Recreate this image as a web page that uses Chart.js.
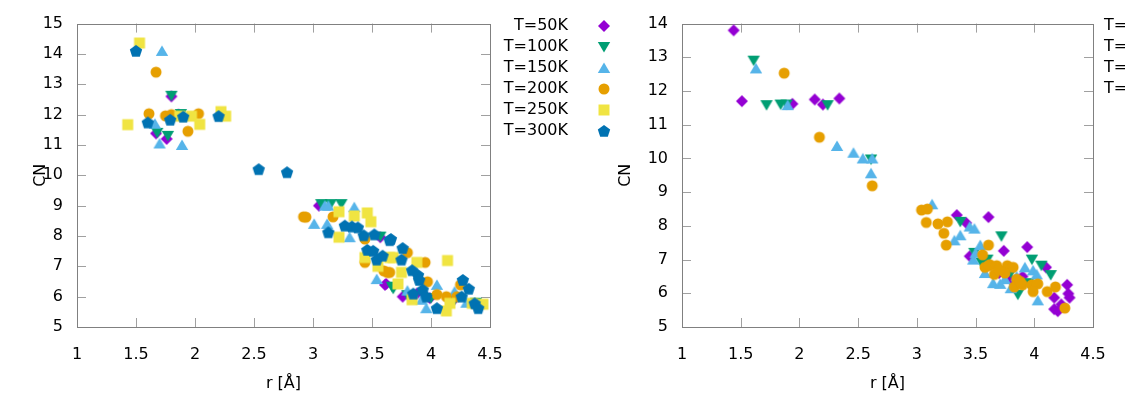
<!DOCTYPE html>
<html>
<head>
<meta charset="utf-8">
<script src="https://cdn.jsdelivr.net/npm/chart.js@4.4.1/dist/chart.umd.min.js"></script>
<style>
  html, body { margin: 0; padding: 0; background: #fff; }
  body { width: 1125px; height: 398px; overflow: hidden; position: relative; }
  #left  { position: absolute; left: 0;     top: 0; width: 640px; height: 398px; }
  #right { position: absolute; left: 600px; top: 0; width: 600px; height: 398px; }
</style>
</head>
<body>
<div id="left"><canvas id="leftChart"></canvas></div>
<div id="right"><canvas id="rightChart"></canvas></div>
<script>
// series labels, colours and marker shapes (gnuplot default set)
const labels = ['T=50K', 'T=100K', 'T=150K', 'T=200K', 'T=250K', 'T=300K'];
const colors = ['#9400d3', '#009e73', '#56b4e9', '#e69f00', '#f0e442', '#0072b2'];
const shapes = ['diamond', 'down', 'up', 'circle', 'square', 'pentagon'];

const x_ticks = [1, 1.5, 2, 2.5, 3, 3.5, 4, 4.5];
const y_ticks_left  = [5, 6, 7, 8, 9, 10, 11, 12, 13, 14, 15];
const y_ticks_right = [5, 6, 7, 8, 9, 10, 11, 12, 13, 14];

// left panel, [r, CN]
const left_50 = [[1.80,12.6],[1.67,11.38],[1.76,11.2],[1.86,12.0],[3.05,9.0],[3.57,7.96],[3.62,6.42],[3.61,6.39],
  [3.76,6.0],[3.88,6.1],[3.99,5.95],[4.18,5.85],[4.40,5.70]];
const left_100 = [[1.80,12.62],[1.68,11.4],[1.77,11.3],[1.88,12.02],[3.07,9.05],[3.15,9.05],[3.24,9.05],[3.57,7.98],
  [3.67,6.33],[3.68,6.26],[3.80,6.05],[4.00,5.95],[4.20,5.9],[4.38,5.8]];
const left_150 = [[1.72,14.1],[1.66,11.7],[1.70,11.05],[1.89,11.0],[3.01,8.4],[3.12,8.4],[3.10,9.0],[3.13,9.0],
  [3.31,7.96],[3.35,8.95],[3.54,6.58],[4.05,6.39],[3.96,5.62],[4.2,6.17],[3.80,6.2],[3.92,5.9],[4.30,5.8]];
const left_200 = [[1.67,13.4],[1.61,12.03],[1.75,11.96],[1.80,12.0],[2.03,12.03],[1.94,11.45],[2.92,8.63],[2.94,8.62],
  [3.17,8.63],[3.44,7.9],[3.44,7.13],[3.65,6.8],[3.63,6.8],[3.80,7.45],[3.95,7.13],[3.97,6.49],[4.05,6.07],
  [4.13,6.0],[4.22,6.0],[4.25,6.39],[3.60,6.85]];
const left_250 = [[1.53,14.36],[1.43,11.67],[1.87,11.95],[1.97,11.95],[2.04,11.68],[2.22,12.1],[2.26,11.95],[3.22,8.8],
  [3.35,8.66],[3.46,8.76],[3.49,8.47],[3.22,7.96],[3.44,7.29],[3.65,7.29],[3.68,7.29],[3.88,7.13],[4.14,7.19],
  [3.75,6.8],[3.72,6.42],[3.84,5.9],[4.13,5.53],[4.16,5.78],[4.35,5.78],[4.44,5.75],[3.55,7.0]];
const left_300 = [[1.50,14.1],[1.60,11.74],[1.79,11.83],[1.90,11.93],[2.20,11.95],[2.54,10.2],[2.78,10.1],[3.13,8.12],
  [3.27,8.34],[3.33,8.31],[3.38,8.28],[3.43,8.02],[3.52,8.05],[3.65,7.86],[3.46,7.54],[3.51,7.51],[3.54,7.22],
  [3.59,7.35],[3.66,7.9],[3.76,7.6],[3.75,7.22],[3.84,6.87],[3.89,6.71],[3.90,6.55],[3.85,6.1],[3.93,6.23],
  [3.96,6.0],[4.05,5.62],[4.27,6.55],[4.32,6.26],[4.26,6.0],[4.37,5.78],[4.40,5.62]];

// right panel, [r, CN]
const right_50 = [[1.44,13.8],[1.51,11.7],[1.94,11.62],[2.13,11.75],[2.20,11.6],[2.34,11.78],[3.34,8.32],[3.42,8.09],
  [3.61,8.26],[3.74,7.26],[3.94,7.37],[4.10,6.77],[4.28,6.25],[4.29,5.99],[4.30,5.87],[4.17,5.87],[4.23,5.67],
  [4.17,5.53],[4.2,5.47],[3.70,6.6],[3.8,6.4],[3.9,6.5],[3.45,7.1]];
const right_100 = [[1.61,12.9],[1.72,11.58],[1.84,11.6],[1.89,11.6],[2.24,11.58],[2.61,9.97],[3.37,8.12],[3.49,7.2],
  [3.55,6.9],[3.72,7.69],[3.98,7.0],[4.06,6.82],[4.14,6.54],[3.86,5.96],[3.6,7.0],[3.8,6.6],[3.95,6.3]];
const right_150 = [[1.63,12.67],[1.90,11.58],[2.32,10.37],[2.46,10.17],[2.54,10.0],[2.62,10.0],[2.61,9.56],[3.13,8.64],
  [3.37,7.72],[3.32,7.57],[3.45,7.98],[3.49,7.92],[3.54,7.43],[3.48,7.0],[3.50,7.2],[3.92,6.77],[3.99,6.68],
  [4.02,6.56],[3.71,6.28],[3.75,6.42],[4.03,5.79],[3.58,6.6],[3.85,6.5],[3.65,6.3],[3.8,6.15]];
const right_200 = [[1.87,12.53],[2.17,10.63],[2.62,9.19],[3.04,8.47],[3.09,8.5],[3.08,8.1],[3.18,8.06],[3.26,8.12],
  [3.23,7.78],[3.25,7.43],[3.61,7.43],[3.56,7.14],[3.58,6.77],[3.62,6.85],[3.62,6.82],[3.68,6.82],[3.77,6.82],
  [3.82,6.77],[3.66,6.56],[3.85,6.42],[3.83,6.19],[3.90,6.25],[3.98,6.25],[4.03,6.28],[3.99,6.05],[4.11,6.05],
  [4.18,6.19],[4.26,5.56],[3.75,6.6],[3.70,6.7],[3.88,6.35]];

const FONT = '"DejaVu Sans", Verdana, sans-serif';
const FONT_SIZE = 16;

function makeMarker(shape, color) {
    const c = document.createElement('canvas');
    c.width = 14; c.height = 14;
    const g = c.getContext('2d');
    g.fillStyle = color;
    g.beginPath();
    if (shape === 'circle') {
        g.arc(7, 7, 5.5, 0, Math.PI * 2);
    } else if (shape === 'square') {
        g.rect(1.5, 1.5, 11, 11);
    } else if (shape === 'diamond') {
        g.moveTo(7, 1); g.lineTo(13, 7); g.lineTo(7, 13); g.lineTo(1, 7);
    } else if (shape === 'up') {
        g.moveTo(7, 1.5); g.lineTo(13.2, 12); g.lineTo(0.8, 12);
    } else if (shape === 'down') {
        g.moveTo(0.8, 2); g.lineTo(13.2, 2); g.lineTo(7, 12.5);
    } else {
        for (let k = 0; k < 5; k++) {
            const a = -Math.PI / 2 + k * 2 * Math.PI / 5;
            g.lineTo(7 + 6.5 * Math.cos(a), 7.5 + 6.5 * Math.sin(a));
        }
    }
    g.closePath();
    g.fill();
    return c;
}

// gnuplot-like border with inward ticks on all four sides
const frame = {
    id: 'frame',
    beforeDatasetsDraw(chart) {
        const ctx = chart.ctx;
        const a = chart.chartArea;
        const xs = chart.scales.x, ys = chart.scales.y;
        ctx.save();
        ctx.lineWidth = 1;
        ctx.strokeStyle = '#a0a0a0';
        ctx.beginPath();
        xs.ticks.forEach(t => {
            const px = Math.round(xs.getPixelForValue(t.value)) + 0.5;
            if (px < a.left + 2 || px > a.right - 2) return;
            ctx.moveTo(px, a.bottom); ctx.lineTo(px, a.bottom - 9);
            ctx.moveTo(px, a.top);    ctx.lineTo(px, a.top + 9);
        });
        ys.ticks.forEach(t => {
            const py = Math.round(ys.getPixelForValue(t.value)) + 0.5;
            if (py < a.top + 2 || py > a.bottom - 2) return;
            ctx.moveTo(a.left, py);  ctx.lineTo(a.left + 9, py);
            ctx.moveTo(a.right, py); ctx.lineTo(a.right - 9, py);
        });
        ctx.stroke();
        ctx.strokeStyle = '#808080';
        ctx.strokeRect(Math.round(a.left) + 0.5, Math.round(a.top) + 0.5,
                       Math.round(a.right - a.left), Math.round(a.bottom - a.top));
        ctx.restore();
    }
};

const key = {
    id: 'key',
    afterDraw(chart, args, opts) {
        const ctx = chart.ctx;
        const a = chart.chartArea;
        ctx.save();
        ctx.font = FONT_SIZE + 'px ' + FONT;
        ctx.fillStyle = '#000';
        ctx.textBaseline = 'middle';
        ctx.textAlign = opts.align;
        chart.data.datasets.forEach((ds, i) => {
            const y = opts.top + i * opts.step;
            ctx.fillText(ds.label, a.right + opts.textDx, y);
            ctx.drawImage(ds.pointStyle, a.right + opts.markerDx - 7, y - 7);
        });
        ctx.restore();
    }
};

function build_panel(canvas_id, series, y_ticks, y_width, y_title_pad, right_pad, key_opts) {
    const datasets = series.map((pts, i) => ({
        label: labels[i],
        data: pts.map(p => ({ x: p[0], y: p[1] })),
        pointStyle: makeMarker(shapes[i], colors[i]),
        backgroundColor: colors[i],
        borderColor: colors[i],
        clip: false,
        order: 10 - i
    }));

    return new Chart(document.getElementById(canvas_id), {
        type: 'scatter',
        data: { datasets: datasets },
        options: {
            responsive: true,
            maintainAspectRatio: false,
            animation: false,
            events: [],
            layout: { padding: { top: 14, right: right_pad, left: 0, bottom: 0 } },
            scales: {
                x: {
                    min: 1, max: 4.5,
                    afterBuildTicks: s => { s.ticks = x_ticks.map(v => ({ value: v })); },
                    afterFit: s => { s.height = 71; },
                    grid: { display: false, drawTicks: false },
                    border: { display: false },
                    ticks: { color: '#000', font: { family: FONT, size: FONT_SIZE }, padding: 18,
                             maxRotation: 0, callback: v => String(v) },
                    title: { display: true, text: 'r [Å]', color: '#000',
                             font: { family: FONT, size: FONT_SIZE }, padding: { top: 0, bottom: 5 } }
                },
                y: {
                    min: y_ticks[0], max: y_ticks[y_ticks.length - 1],
                    afterBuildTicks: s => { s.ticks = y_ticks.map(v => ({ value: v })); },
                    afterFit: s => { s.width = y_width; },
                    grid: { display: false, drawTicks: false },
                    border: { display: false },
                    ticks: { color: '#000', font: { family: FONT, size: FONT_SIZE }, padding: 14,
                             callback: v => String(v) },
                    title: { display: true, text: 'CN', color: '#000',
                             font: { family: FONT, size: FONT_SIZE }, padding: { top: y_title_pad, bottom: 0 } }
                }
            },
            plugins: {
                legend: { display: false },
                tooltip: { enabled: false },
                key: key_opts
            }
        },
        plugins: [frame, key]
    });
}

build_panel('leftChart', [left_50, left_100, left_150, left_200, left_250, left_300],
            y_ticks_left, 77, 31, 150,
            { align: 'right', textDx: 78, markerDx: 114, top: 26, step: 21 });

build_panel('rightChart', [right_50, right_100, right_150, right_200],
            y_ticks_right, 82, 16, 107,
            { align: 'left', textDx: 11, markerDx: 200, top: 26, step: 21 });
</script>
</body>
</html>
